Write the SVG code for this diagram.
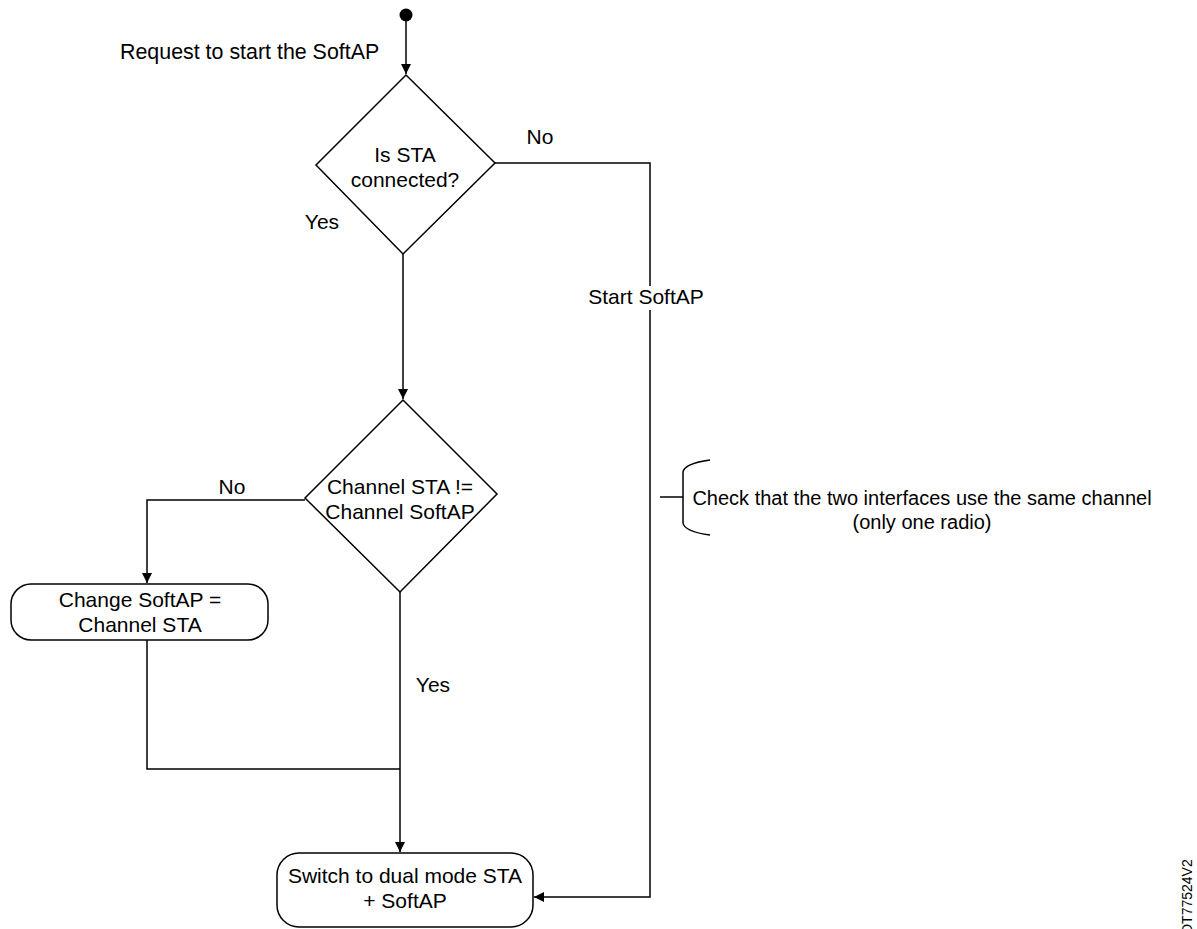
<svg xmlns="http://www.w3.org/2000/svg" width="1197" height="929" viewBox="0 0 1197 929">
<defs>
<style>
.t{font-family:"Liberation Sans",Arial,sans-serif;font-size:21px;fill:#000}
.c{text-anchor:middle}
.s{fill:#fff;stroke:#000;stroke-width:1.5}
.l{fill:none;stroke:#000;stroke-width:1.5}
</style>
<marker id="a" viewBox="0 0 10 10" refX="10" refY="5" markerWidth="10" markerHeight="10" markerUnits="userSpaceOnUse" orient="auto">
<path d="M0,0 L10,5 L0,10 Z" fill="#000"/>
</marker>
</defs>
<rect width="1197" height="929" fill="#fff"/>
<g id="connectors">
<line class="l" x1="406" y1="15" x2="406" y2="74" marker-end="url(#a)"/>
<line class="l" x1="403" y1="254" x2="403" y2="399" marker-end="url(#a)"/>
<polyline class="l" points="305,500 147,500 147,583" marker-end="url(#a)"/>
<polyline class="l" points="147,640 147,769 400,769"/>
<line class="l" x1="400" y1="592" x2="400" y2="852" marker-end="url(#a)"/>
<polyline class="l" points="495,163 650,163 650,897 534,897" marker-end="url(#a)"/>
<rect x="572" y="286" width="140" height="24" fill="#fff"/>
<line class="l" x1="660" y1="497" x2="683" y2="497"/>
<path class="l" d="M710,460 C695,462 684,466 683,472 L683,523 C684,529 695,533 710,535"/>
</g>
<g id="start">
<circle cx="406" cy="15" r="6.5" fill="#000"/>
<text class="t" x="120" y="59" style="font-size:21.4px">Request to start the SoftAP</text>
</g>
<g id="d1">
<polygon class="s" points="406,75 495,163 403,254 316,165"/>
<text class="t c" x="405" y="162">Is STA</text>
<text class="t c" x="405" y="187">connected?</text>
</g>
<g id="d2">
<polygon class="s" points="403,400 497,494 400,592 305,498"/>
<text class="t c" x="400" y="494">Channel STA !=</text>
<text class="t c" x="400" y="519">Channel SoftAP</text>
</g>
<g id="b1">
<rect class="s" x="11" y="584" width="257" height="56" rx="20"/>
<text class="t c" x="140" y="607">Change SoftAP =</text>
<text class="t c" x="140" y="632">Channel STA</text>
</g>
<g id="b2">
<rect class="s" x="277" y="853" width="256" height="74" rx="22"/>
<text class="t c" x="405" y="883">Switch to dual mode STA</text>
<text class="t c" x="405" y="908">+ SoftAP</text>
</g>
<g id="labels">
<text class="t c" x="540" y="144">No</text>
<text class="t c" x="322" y="229">Yes</text>
<text class="t c" x="646" y="304">Start SoftAP</text>
<text class="t c" x="232" y="494">No</text>
<text class="t c" x="433" y="692">Yes</text>
<text class="t c" x="922" y="505" style="font-size:20px">Check that the two interfaces use the same channel</text>
<text class="t c" x="922" y="529" style="font-size:20px">(only one radio)</text>
<text style="font-family:'Liberation Sans',Arial,sans-serif;font-size:14px" transform="translate(1192,934) rotate(-90)">DT77524V2</text>
</g>
</svg>
